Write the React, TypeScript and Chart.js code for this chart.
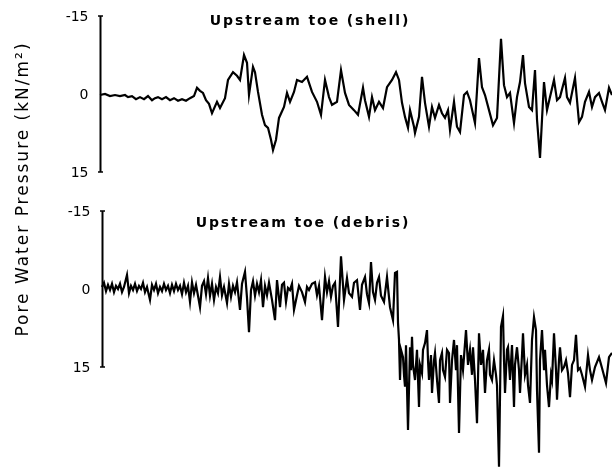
import React, { useEffect, useRef } from "react";
import { Chart, registerables } from "chart.js";

Chart.register(...registerables);

// ---- Data ----
const tickValues = [-15, 0, 15];
const tickLabels = ["-15", "0", "15"];
const panelTitles = ["Upstream toe (shell)", "Upstream toe (debris)"];
const yAxisTitle = "Pore Water Pressure (kN/m²)";

const shellTime = [
  0, 5, 10, 15, 20, 25, 28, 32, 36, 40,
  44, 48, 52, 55, 58, 62, 66, 70, 74, 78,
  82, 86, 90, 94, 97, 100, 103, 106, 109, 112,
  117, 120, 125, 128, 133, 137, 140, 144, 147, 149,
  153, 155, 158, 162, 165, 168, 171, 173, 176, 179,
  184, 187, 190, 194, 197, 202, 207, 212, 217, 221,
  225, 229, 232, 237, 241, 245, 249, 254, 258, 263,
  265, 269, 272, 275, 279, 283, 287, 292, 296, 299,
  302, 305, 308, 310, 314, 315, 319, 322, 325, 329,
  332, 335, 339, 342, 345, 348, 350, 354, 357, 360,
  364, 367, 370, 375, 379, 382, 385, 389, 393, 397,
  401, 404, 407, 410, 414, 417, 420, 423, 425, 429,
  432, 435, 437, 440, 442, 444, 447, 450, 454, 457,
  460, 465, 467, 470, 475, 479, 482, 485, 489, 492,
  495, 499, 502, 505, 509, 512,
];
const shellPressure = [
  0.2, 0, 0.4, 0.2, 0.4, 0.2, 0.6, 0.4, 1.0, 0.6,
  1.0, 0.4, 1.2, 0.8, 0.6, 1.0, 0.6, 1.2, 0.8, 1.3,
  1.0, 1.3, 0.8, 0.4, -1.2, -0.6, -0.2, 1.2, 1.9, 3.7,
  1.5, 2.7, 0.8, -2.7, -4.2, -3.5, -2.7, -7.5, -6.0, 0.2,
  -5.2, -4.2, -0.4, 4.0, 6.0, 6.5, 8.8, 10.8, 8.8, 4.6,
  2.5, -0.2, 1.5, -0.4, -2.7, -2.3, -3.3, -0.4, 1.5, 4.0,
  -2.7, 0.6, 2.1, 1.5, -4.6, -0.2, 2.1, 3.1, 4.0, -1.2,
  1.2, 4.4, 0.6, 3.1, 1.5, 2.7, -1.3, -2.7, -4.2, -2.7,
  1.7, 4.4, 6.5, 3.1, 6.3, 7.5, 4.4, -3.3, 1.7, 6.3,
  2.5, 4.6, 2.1, 3.7, 4.6, 3.1, 6.9, 1.5, 6.3, 7.3,
  0.2, -0.4, 1.2, 5.6, -6.9, -1.3, 0.2, 3.1, 6.0, 4.6,
  -10.6, -1.7, 0.6, -0.2, 5.6, 0.6, -2.3, -7.5, -2.1, 2.5,
  3.1, -4.6, 4.9, 12.3, 4.9, -2.3, 3.1, 0.6, -2.7, 1.2,
  0.6, -3.1, 0.6, 1.7, -3.1, 5.4, 4.4, 1.5, -0.4, 2.5,
  0.6, -0.2, 1.5, 3.1, -1.2, 0.2,
];

const debrisTime = [
  2, 4, 6, 8, 10, 12, 14, 16, 18, 20,
  22, 24, 27, 29, 31, 33, 35, 37, 39, 41,
  43, 45, 47, 50, 52, 54, 56, 58, 60, 62,
  64, 66, 68, 70, 72, 74, 76, 78, 80, 82,
  84, 86, 88, 90, 92, 94, 96, 98, 100, 102,
  104, 106, 108, 110, 112, 114, 116, 118, 120, 122,
  124, 127, 129, 131, 133, 135, 137, 140, 142, 145,
  147, 149, 151, 153, 155, 157, 159, 161, 163, 165,
  167, 169, 172, 175, 177, 180, 182, 184, 186, 188,
  190, 192, 194, 197, 199, 202, 205, 207, 209, 212,
  215, 217, 219, 222, 225, 227, 229, 231, 233, 235,
  238, 241, 244, 247, 249, 252, 254, 257, 260, 262,
  265, 267, 269, 271, 273, 275, 277, 279, 281, 284,
  287, 290, 293, 295, 297, 298, 299, 300, 301, 303,
  304, 305, 306, 308, 310, 311, 312, 313, 315, 317,
  319, 320, 322, 323, 325, 327, 328, 329, 331, 332,
  334, 335, 337, 339, 340, 342, 343, 345, 347, 349,
  350, 352, 354, 356, 357, 359, 361, 363, 366, 368,
  370, 372, 373, 375, 377, 379, 381, 383, 385, 387,
  389, 390, 392, 394, 396, 397, 399, 401, 403, 404,
  405, 407, 408, 410, 412, 414, 415, 417, 419, 420,
  422, 423, 425, 427, 428, 430, 432, 434, 436, 437,
  439, 440, 442, 444, 445, 447, 449, 451, 452, 454,
  456, 457, 459, 460, 462, 464, 466, 468, 470, 472,
  474, 476, 478, 480, 482, 485, 488, 490, 492, 495,
  499, 502, 506, 509, 512,
];
const debrisPressure = [
  -0.4, -1.2, 0.4, -0.8, 0.2, -1.0, 0.6, -0.6, 0, -1.0,
  0.6, -0.4, -2.7, 0.8, -0.6, 0.2, -1.0, 0.4, -0.6, 0,
  -1.2, 0.6, -0.4, 2.1, -0.8, 0.2, -1.0, 0.8, -0.4, 0.4,
  -1.0, 0.2, -0.6, 0.8, -0.8, 0.4, -1.0, 0.2, -0.6, 1.0,
  -1.2, 0.6, -0.6, 2.5, -1.3, 0.8, -0.8, 1.3, 3.5, -0.6,
  -1.5, 1.0, -2.1, 1.3, -1.0, 2.1, -0.4, 0.8, -2.3, 1.2,
  -0.4, 2.7, -1.0, 1.5, -0.6, 0.6, -1.3, 4.0, -1.0, -3.3,
  1.7, 8.3, 0.2, -1.5, 1.3, -1.0, 0.6, -1.7, 3.5, -0.6,
  1.2, -1.2, 2.1, 6.0, -1.7, 3.5, -0.8, -1.2, 2.5, -0.2,
  0.2, -1.0, 4.0, 1.2, -0.6, 0.6, 2.5, -0.4, 0.2, -1.0,
  -1.3, 1.2, -0.6, 6.0, -2.3, 0.6, -1.5, 1.5, -0.6, -1.2,
  7.3, -6.3, 2.1, -2.1, 0.8, 1.5, -1.2, -1.7, 4.0, -0.8,
  -2.3, 1.0, 2.7, -5.2, 0.6, 2.1, -1.2, -2.3, 1.3, 2.5,
  -2.3, 3.5, 6.0, -3.1, -3.3, 6.5, 9.8, 17.5, 11.7, 13.1,
  16.5, 18.8, 10.8, 27.1, 11.2, 15.6, 9.2, 14.6, 17.5, 11.7,
  22.7, 14.6, 16.2, 11.7, 10.4, 7.9, 13.7, 17.5, 12.7, 20.0,
  13.7, 12.3, 17.5, 21.9, 13.7, 12.3, 15.6, 16.9, 11.7, 12.3,
  21.9, 13.7, 9.8, 15.6, 10.8, 27.7, 12.7, 15.6, 7.9, 14.6,
  11.7, 16.5, 11.2, 17.5, 25.8, 8.5, 14.6, 11.7, 20.0, 13.7,
  11.7, 16.5, 17.5, 13.7, 16.5, 18.5, 34.2, 7.3, 5.2, 13.7,
  20.0, 11.7, 11.2, 17.5, 10.8, 22.7, 14.6, 11.2, 15.6, 20.0,
  12.7, 8.5, 16.5, 14.6, 18.5, 21.9, 9.8, 5.4, 7.9, 19.4,
  31.5, 13.7, 7.9, 15.6, 11.7, 18.5, 22.7, 16.5, 17.5, 8.5,
  15.6, 21.3, 13.7, 11.2, 15.6, 15.0, 13.7, 16.2, 20.8, 14.6,
  13.7, 8.8, 15.6, 15.2, 16.5, 18.8, 12.7, 15.6, 17.5, 15.0,
  13.1, 15.2, 18.1, 13.1, 12.3,
];

function toPoints(xs: number[], ys: number[]) {
  const n = Math.min(xs.length, ys.length);
  const out: { x: number; y: number }[] = [];
  for (let i = 0; i < n; i++) out.push({ x: xs[i], y: ys[i] });
  return out;
}

export default function App() {
  const ref = useRef<HTMLCanvasElement>(null);

  useEffect(() => {
    if (!ref.current) return;
    const W = 612;
    const H = 468;
    const LEFT = 100;
    const PX = 5.2; // pixels per kN/m² in both panels
    const zeroTop = 94;
    const zeroBottom = 289;
    const y1min = -zeroTop / PX;
    const y2min = -zeroBottom / PX;

    const panelPlugin = {
      id: "panelAxes",
      afterDraw(chart: any) {
        const ctx = chart.ctx as CanvasRenderingContext2D;
        const xs = chart.scales.x;
        const panels = [
          { scale: chart.scales.y1, x0: shellTime[0], title: panelTitles[0], tx: 310, ty: 21 },
          { scale: chart.scales.y2, x0: debrisTime[0], title: panelTitles[1], tx: 303, ty: 223 },
        ];
        ctx.save();
        ctx.fillStyle = "#000";
        ctx.strokeStyle = "#000";
        for (const p of panels) {
          const ax = Math.round(xs.getPixelForValue(p.x0)) + 0.5;
          const yTop = p.scale.getPixelForValue(tickValues[0]);
          const yBot = p.scale.getPixelForValue(tickValues[tickValues.length - 1]);
          ctx.lineWidth = 2;
          ctx.beginPath();
          ctx.moveTo(ax, yTop);
          ctx.lineTo(ax, yBot);
          ctx.stroke();
          ctx.lineWidth = 1.5;
          for (const yy of [yTop, yBot]) {
            ctx.beginPath();
            ctx.moveTo(ax - 2.5, yy);
            ctx.lineTo(ax + 2.5, yy);
            ctx.stroke();
          }
          ctx.font = "14px 'DejaVu Sans'";
          ctx.textAlign = "right";
          ctx.textBaseline = "middle";
          (ctx as any).letterSpacing = "0px";
          tickValues.forEach((v, i) => {
            ctx.fillText(tickLabels[i], ax - 12, p.scale.getPixelForValue(v) + 1);
          });
          ctx.font = "bold 14px 'DejaVu Sans'";
          (ctx as any).letterSpacing = "1.9px";
          ctx.textAlign = "center";
          ctx.fillText(p.title, p.tx, p.ty);
        }
        // shared y-axis title
        ctx.translate(24, 189);
        ctx.rotate(-Math.PI / 2);
        ctx.font = "17px 'DejaVu Sans'";
        (ctx as any).letterSpacing = "2px";
        ctx.textAlign = "center";
        ctx.textBaseline = "middle";
        ctx.fillText(yAxisTitle, 0, 0);
        ctx.restore();
      },
    };

    const chart = new Chart(ref.current, {
      type: "line",
      data: {
        datasets: [
          {
            label: panelTitles[0],
            data: toPoints(shellTime, shellPressure),
            yAxisID: "y1",
            borderColor: "#000",
            borderWidth: 2.2,
            pointRadius: 0,
            tension: 0,
            fill: false,
            clip: false as any,
          },
          {
            label: panelTitles[1],
            data: toPoints(debrisTime, debrisPressure),
            yAxisID: "y2",
            borderColor: "#000",
            borderWidth: 2.2,
            pointRadius: 0,
            tension: 0,
            fill: false,
            clip: false as any,
          },
        ],
      },
      options: {
        responsive: false,
        animation: false,
        layout: { padding: { left: LEFT, right: 0, top: 0, bottom: 0 } },
        plugins: {
          legend: { display: false },
          tooltip: { enabled: false },
          title: { display: false },
        },
        events: [],
        scales: {
          x: { type: "linear", min: 0, max: W - LEFT, display: false },
          y1: { type: "linear", reverse: true, min: y1min, max: y1min + H / PX, display: false },
          y2: { type: "linear", reverse: true, min: y2min, max: y2min + H / PX, display: false },
        },
      },
      plugins: [panelPlugin],
    });
    return () => chart.destroy();
  }, []);

  return (
    <div style={{ position: "absolute", left: 0, top: 0, width: 612, height: 468, background: "#fff" }}>
      <canvas ref={ref} width={612} height={468} />
    </div>
  );
}
